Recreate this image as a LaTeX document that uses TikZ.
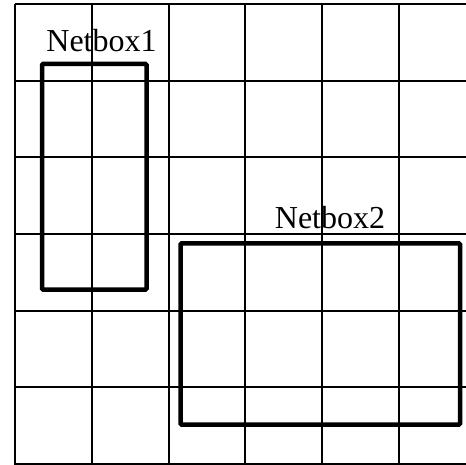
\documentclass[tikz,border=0pt]{standalone}
\usepackage{fontspec}
\setmainfont{Liberation Serif}
\usetikzlibrary{positioning}

\begin{document}
\begin{tikzpicture}[
    x=1pt, y=-1pt,
    gridline/.style = {draw=black, line width=2pt},
    netbox/.style   = {draw=black, line width=4.5pt, rounded corners=1pt,
                       inner sep=0pt, outer sep=0pt, anchor=north west},
    boxlabel/.style = {font=\fontsize{32}{32}\selectfont, anchor=base, inner sep=0pt},
  ]
    \useasboundingbox (0,0) rectangle (466,465);

    % grid
    \foreach \i in {0,...,5}
      \draw[gridline] (15+76.8*\i,4) -- (15+76.8*\i,465);
    \foreach \j in {0,...,6}
      \draw[gridline] (15,4+76.67*\j) -- (466,4+76.67*\j);

    % the two boxes
    \node[netbox, minimum width=104.5pt, minimum height=225.5pt] (nb1) at (42,64) {};
    \node[netbox, minimum width=279.5pt, minimum height=181pt] (nb2) at (180.5,243.5) {};

    \node[boxlabel] (lab1) at (101.5,52)  {Netbox1};
    \node[boxlabel] (lab2) at (330,229)   {Netbox2};
  \end{tikzpicture}
\end{document}
